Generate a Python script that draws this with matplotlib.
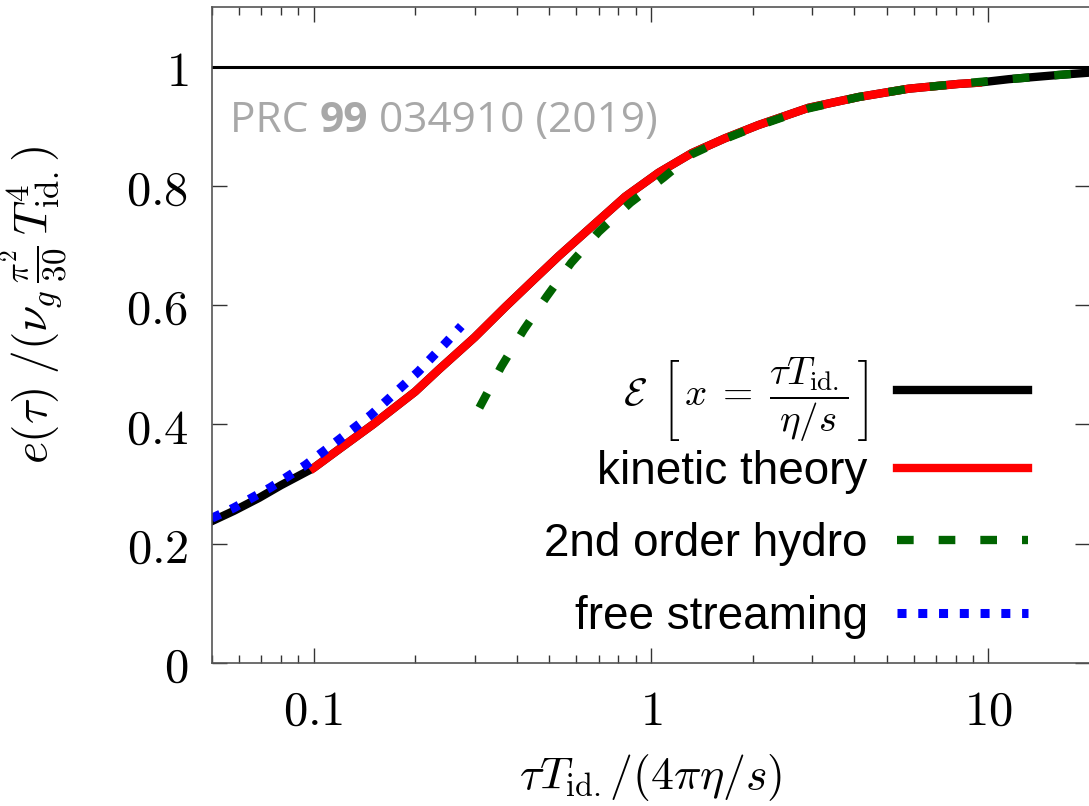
import numpy as np
import matplotlib.pyplot as plt
from matplotlib.ticker import LogLocator, NullFormatter

plt.rcParams['mathtext.fontset'] = 'cm'

# attractor E[x] (black)
attr_x = [0.05, 0.058, 0.069, 0.08, 0.1, 0.12, 0.15, 0.2, 0.235, 0.3, 0.37, 0.45, 0.532,
          0.668, 0.839, 1.052, 1.321, 1.659, 2.08, 2.93, 4.12, 5.8, 8.15, 9.3, 11.5, 16.1, 20]
attr_y = [0.238, 0.255, 0.277, 0.298, 0.327, 0.360, 0.400, 0.455, 0.492, 0.546, 0.597, 0.643, 0.682,
          0.732, 0.782, 0.822, 0.855, 0.880, 0.902, 0.931, 0.949, 0.963, 0.971, 0.973, 0.979, 0.986, 0.990]

# kinetic theory (red)
kin_x = [0.1, 0.12, 0.15, 0.2, 0.235, 0.3, 0.37, 0.45, 0.532, 0.668, 0.839, 1.052,
         1.321, 1.659, 2.08, 2.93, 4.12, 5.8, 8.15, 9.3]
kin_y = [0.327, 0.360, 0.400, 0.455, 0.492, 0.546, 0.597, 0.643, 0.682, 0.732, 0.782, 0.822,
         0.855, 0.880, 0.902, 0.931, 0.949, 0.963, 0.971, 0.973]

# 2nd order hydro (green)
hyd_x = [0.31, 0.36, 0.42, 0.49, 0.58, 0.70, 0.87, 1.09, 1.321, 1.659, 2.08, 2.93,
         4.12, 5.8, 8.15, 11.5, 16.1, 20]
hyd_y = [0.428, 0.497, 0.559, 0.614, 0.671, 0.723, 0.772, 0.814, 0.853, 0.879, 0.901, 0.930,
         0.949, 0.963, 0.971, 0.979, 0.986, 0.990]

# free streaming (blue)
fs_x = [0.05, 0.058, 0.0744, 0.0947, 0.1186, 0.148, 0.2047, 0.2486, 0.274]
fs_y = [0.243, 0.260, 0.294, 0.332, 0.374, 0.416, 0.489, 0.539, 0.565]

xticks = [0.1, 1, 10]
xticklabels = ['$0.1$', '$1$', '$10$']
yticks = [0, 0.2, 0.4, 0.6, 0.8, 1.0]
yticklabels = ['$0$', '$0.2$', '$0.4$', '$0.6$', '$0.8$', '$1$']

fig = plt.figure(figsize=(10.89, 8.06), dpi=100)
ax = fig.add_axes([212/1089, (806-663)/806, 878/1089, 656/806])

ax.axhline(1.0, color='black', lw=2.2)
l_attr, = ax.plot(attr_x, attr_y, color='black', lw=6,
                  label=r'$\mathcal{E}\;\;\left[\,x\;=\;\dfrac{\tau T_{\rm id.}}{\eta/s}\,\right]$')
l_kin, = ax.plot(kin_x, kin_y, color='#ff0000', lw=6, label='kinetic theory')
l_hyd, = ax.plot(hyd_x, hyd_y, color='#006400', lw=6, dashes=(2.0, 3.0), label='2nd order hydro')
l_fs, = ax.plot(fs_x, fs_y, color='#0000ff', lw=6.5, dashes=(1.0, 1.3), label='free streaming')

ax.set_xscale('log')
ax.set_xlim(0.05, 20)
ax.set_ylim(0, 1.1)

ax.set_xticks(xticks, labels=xticklabels)
ax.xaxis.set_minor_locator(LogLocator(base=10, subs=np.arange(2, 10)))
ax.xaxis.set_minor_formatter(NullFormatter())
ax.set_yticks(yticks, labels=yticklabels)

for s in ax.spines.values():
    s.set_color('#555555')
    s.set_linewidth(1.2)
ax.tick_params(which='both', direction='in', top=True, right=True, color='#333333')
ax.tick_params(which='major', length=11, width=1.0, labelsize=35, pad=17)
ax.tick_params(which='minor', length=5.5, width=1.0)

ax.set_xlabel(r'$\tau T_{\rm id.}/(4\pi\eta/s)$', fontsize=33)
ax.xaxis.set_label_coords(0.5, -0.136)
ax.set_ylabel(r'$e(\tau)\;/(\nu_g\,\frac{\pi^2}{30}\,T_{\rm id.}^4)$', fontsize=34)
ax.yaxis.set_label_coords(-0.162, 0.545)

# "PRC 99 034910 (2019)" with bold volume number
fig.canvas.draw()
r = fig.canvas.get_renderer()
x0 = 0.0205
for part, wt in [('PRC ', 'normal'), ('99', 'bold'), (' 034910 (2019)', 'normal')]:
    t = ax.text(x0, 0.809, part, transform=ax.transAxes, fontsize=30.5,
                family='Open Sans', weight=wt, color='#a8a8a8', va='baseline')
    bb = t.get_window_extent(r)
    x0 = ax.transAxes.inverted().transform((bb.x1, 0))[0]

leg_kw = dict(frameon=False, markerfirst=False, handlelength=2.84, handletextpad=0.65,
              borderpad=0, borderaxespad=0, prop={'family': 'Liberation Sans', 'size': 33})

leg1 = ax.legend(handles=[l_attr], loc='center right', bbox_to_anchor=(0.929, 0.402), **leg_kw)
leg1.get_texts()[0].set_fontsize(28)
ax.add_artist(leg1)
ax.legend(handles=[l_kin, l_hyd, l_fs], loc='lower right', bbox_to_anchor=(0.929, 0.037),
          labelspacing=0.62, **leg_kw)

fig.savefig('out.png', dpi=100)
